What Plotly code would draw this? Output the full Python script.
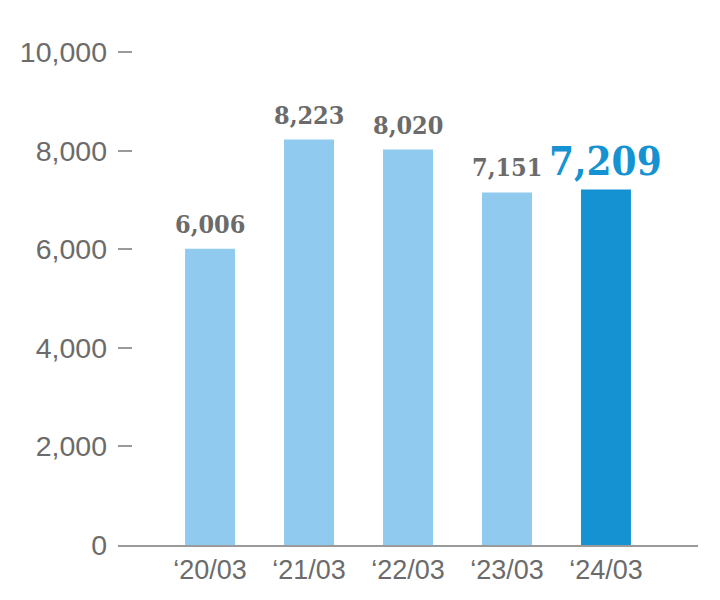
import plotly.graph_objects as go

categories = ["‘20/03", "‘21/03", "‘22/03", "‘23/03", "‘24/03"]
values = [6006, 8223, 8020, 7151, 7209]
y_ticks = [0, 2000, 4000, 6000, 8000, 10000]
y_tick_labels = ["0", "2,000", "4,000", "6,000", "8,000", "10,000"]

LIGHT = "#90cbef"
DARK = "#1592d2"
GRAY = "#6b6b6b"

colors = [LIGHT] * (len(values) - 1) + [DARK]

fig = go.Figure()
fig.add_trace(go.Bar(
    x=categories, y=values, marker=dict(color=colors, line=dict(width=0)),
    width=0.505, hoverinfo="skip",
))

for i, (c, v) in enumerate(zip(categories, values)):
    last = i == len(values) - 1
    fig.add_annotation(
        x=c, y=v, text=f"{v:,}", showarrow=False, yanchor="bottom",
        yshift=4 if last else 8,
        font=dict(family="DejaVu Serif Condensed, DejaVu Serif", size=40 if last else 25,
                  color=DARK if last else GRAY, weight="bold"),
    )

fig.update_layout(
    width=720, height=600,
    margin=dict(l=110, r=30, t=39, b=63),
    plot_bgcolor="white", paper_bgcolor="white",
    showlegend=False,
    xaxis=dict(
        range=[-0.93, 4.93], showgrid=False, zeroline=False,
        showline=True, linecolor="#9a9a9a", linewidth=1.5,
        ticks="", tickfont=dict(family="Liberation Sans", size=27, color=GRAY),
        ticklabelstandoff=0,
    ),
    yaxis=dict(
        range=[0, 10100], tickvals=y_ticks, ticktext=y_tick_labels,
        showgrid=False, zeroline=False, showline=False,
        ticks="inside", ticklen=14, tickwidth=1.5, tickcolor="#9a9a9a",
        tickfont=dict(family="Liberation Sans", size=28.5, color=GRAY),
        ticklabelstandoff=10,
    ),
)

fig.write_html("out.html")
